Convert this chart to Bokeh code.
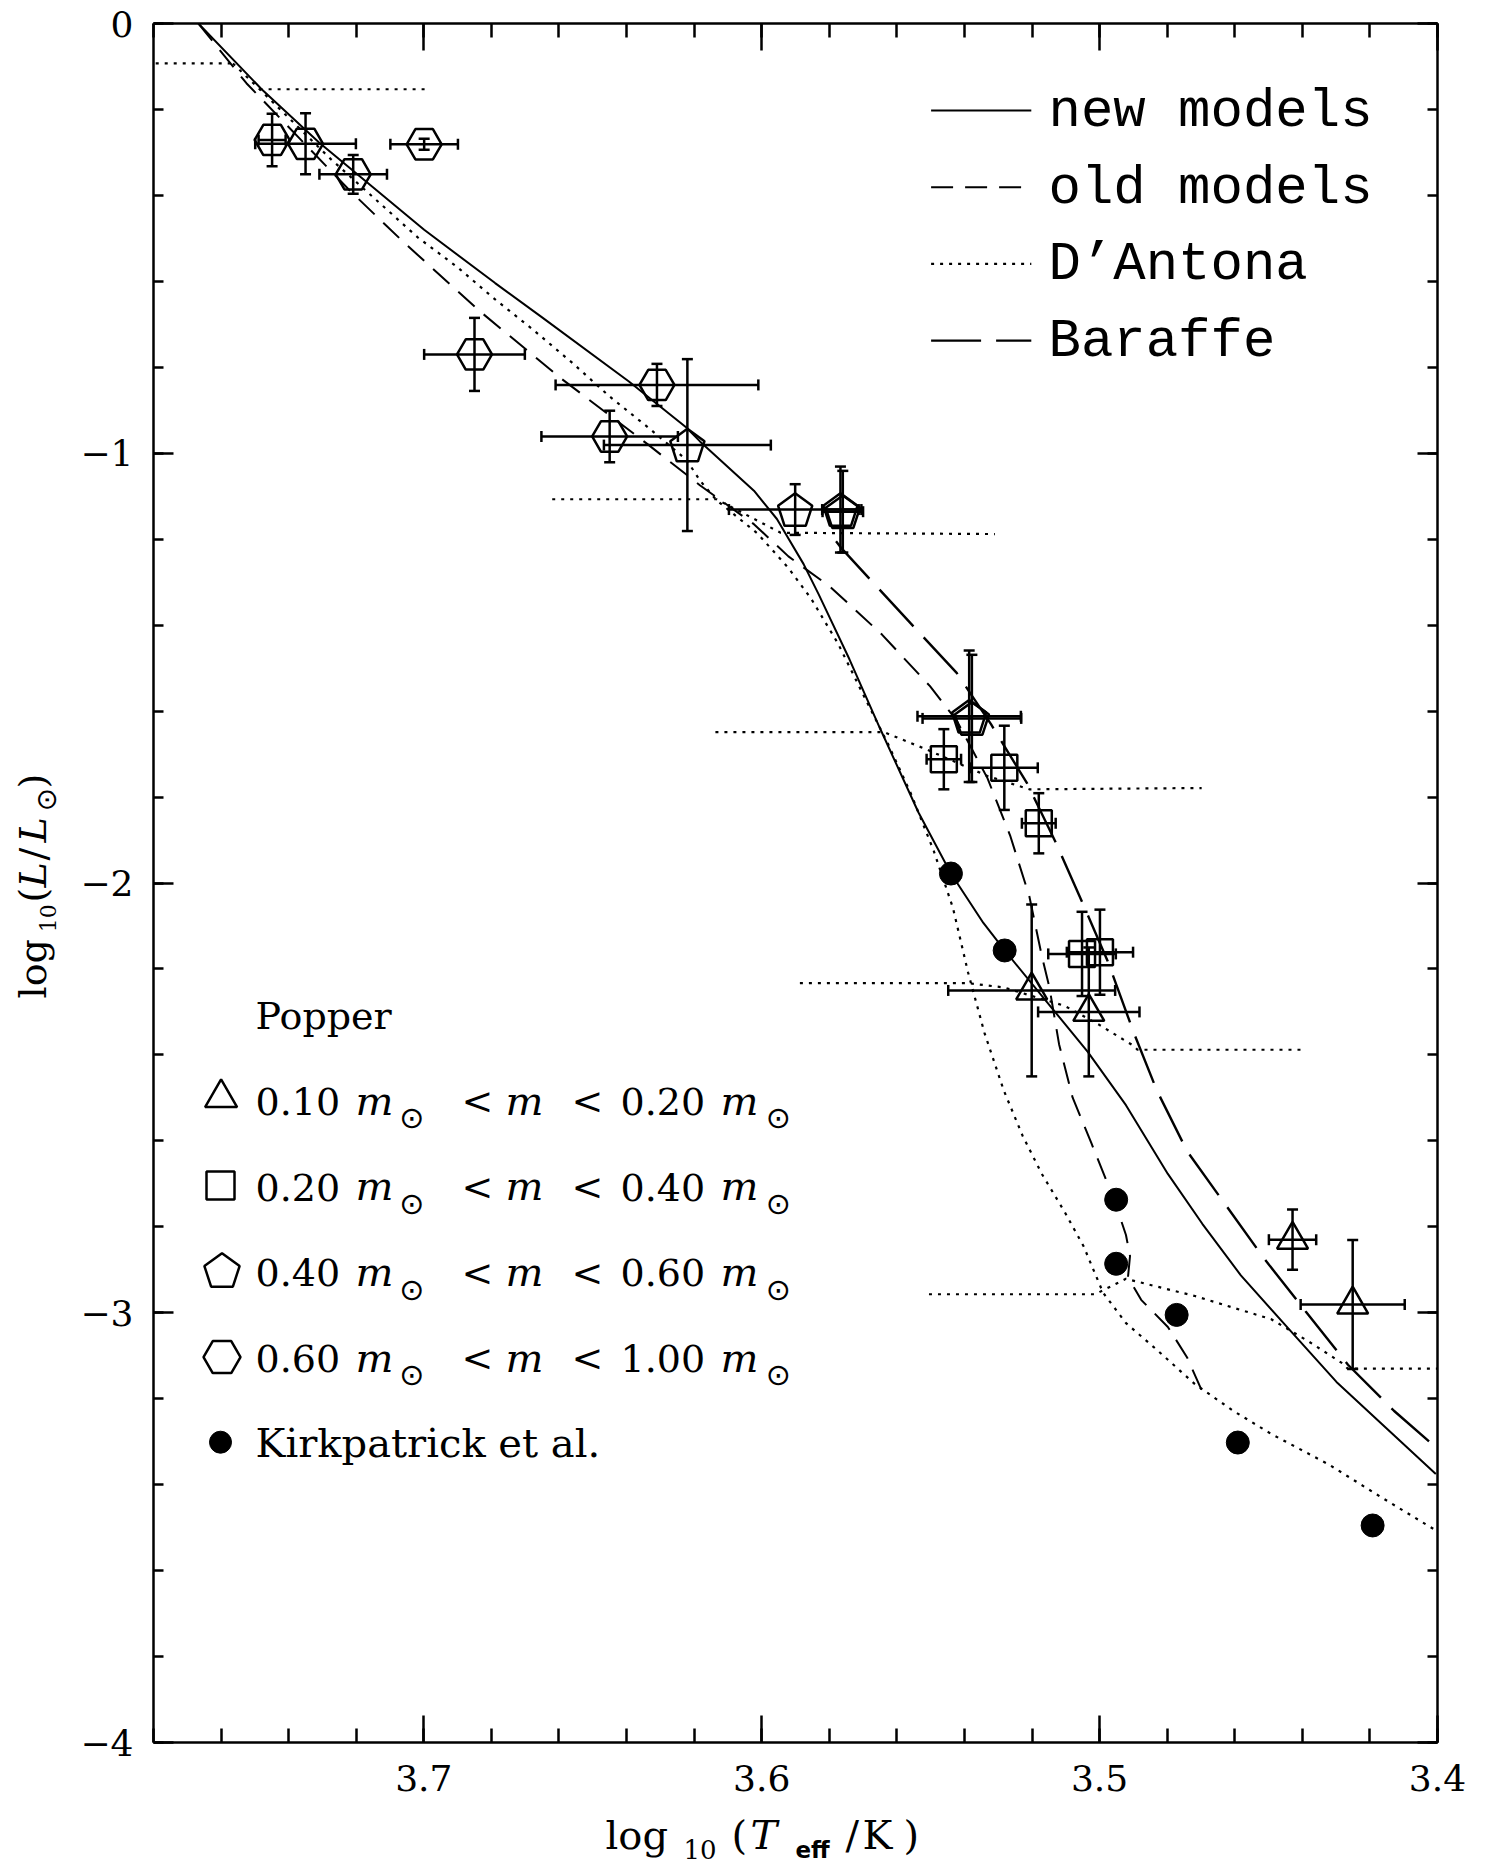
import numpy as np
from bokeh.plotting import figure
from bokeh.layouts import row, column
from bokeh.models import (Range1d, LinearAxis, FixedTicker, Whisker, TeeHead,
                          ColumnDataSource, Label)
from bokeh.embed import file_html
from bokeh.resources import INLINE

# ---------------- data ----------------
# new models (solid)
new_x = [3.7667, 3.748, 3.731, 3.6999, 3.6789, 3.6653, 3.6393, 3.6223, 3.6182, 3.6023,
         3.5955, 3.5876, 3.5831, 3.574, 3.565, 3.5536, 3.544, 3.5344, 3.5281, 3.5137,
         3.5035, 3.4922, 3.4798, 3.4696, 3.4582, 3.4435, 3.4299, 3.4152, 3.4005]
new_y = [0.0, -0.153, -0.277, -0.480, -0.604, -0.682, -0.833, -0.940, -0.973, -1.087,
         -1.153, -1.258, -1.329, -1.480, -1.640, -1.836, -1.978, -2.093, -2.157, -2.295,
         -2.393, -2.517, -2.677, -2.793, -2.913, -3.042, -3.161, -3.268, -3.375]
# old models (short dash)
old_x = [3.7667, 3.7525, 3.722, 3.7061, 3.6835, 3.6597, 3.6336, 3.6182, 3.6023, 3.5921,
         3.5797, 3.5644, 3.5502, 3.5423, 3.5332, 3.5265, 3.5208, 3.5171, 3.5149, 3.512,
         3.508, 3.5024, 3.4956, 3.4922, 3.491, 3.4916, 3.4877, 3.4798, 3.4741, 3.4696]
old_y = [0.0, -0.139, -0.388, -0.508, -0.669, -0.824, -0.980, -1.075, -1.165, -1.240,
         -1.311, -1.422, -1.542, -1.622, -1.756, -1.889, -2.031, -2.170, -2.241, -2.375,
         -2.499, -2.606, -2.739, -2.819, -2.868, -2.917, -2.970, -3.033, -3.104, -3.184]
# Baraffe (long dash)
bar_x = [3.578, 3.5763, 3.5559, 3.5423, 3.5321, 3.5214, 3.5129, 3.5049, 3.4976, 3.4899,
         3.4831, 3.4741, 3.4628, 3.4514, 3.439, 3.4265, 3.4129, 3.4005]
bar_y = [-1.205, -1.222, -1.396, -1.511, -1.631, -1.769, -1.907, -2.049, -2.182, -2.348,
         -2.482, -2.624, -2.748, -2.873, -2.997, -3.121, -3.228, -3.313]
# D'Antona main curve (dotted)
dan_x = [3.7565, 3.7486, 3.7276, 3.7016, 3.6902, 3.6789, 3.6676, 3.6563, 3.645, 3.6336,
         3.6223, 3.6182, 3.6134, 3.6012, 3.5921, 3.5854, 3.5774, 3.5695, 3.5627, 3.5559,
         3.5491, 3.5434, 3.5389, 3.5341, 3.5284, 3.5228, 3.5171, 3.5103, 3.5047, 3.499,
         3.4922, 3.4831, 3.4718, 3.4605, 3.4492, 3.4322, 3.4163, 3.401]
dan_y = [-0.093, -0.153, -0.315, -0.499, -0.566, -0.642, -0.713, -0.788, -0.868, -0.940,
         -1.015, -1.064, -1.109, -1.187, -1.267, -1.338, -1.443, -1.569, -1.675, -1.791,
         -1.925, -2.058, -2.209, -2.348, -2.482, -2.588, -2.677, -2.766, -2.846, -2.953,
         -3.024, -3.086, -3.166, -3.228, -3.282, -3.353, -3.431, -3.504]
# D'Antona tracks (dotted)
trk_x = [[3.79, 3.7565], [3.7486, 3.699],
         [3.662, 3.6134, 3.5944, 3.531],
         [3.6137, 3.5638, 3.5513, 3.5332, 3.5208, 3.4698],
         [3.5887, 3.539, 3.5284, 3.5103, 3.5001, 3.4899, 3.4888, 3.4396],
         [3.5505, 3.5013, 3.4922, 3.4831, 3.4718, 3.4605, 3.4492, 3.4379, 3.4277, 3.4266, 3.39]]
trk_y = [[-0.093, -0.093], [-0.153, -0.153],
         [-1.107, -1.107, -1.185, -1.188],
         [-1.649, -1.649, -1.689, -1.751, -1.782, -1.779],
         [-2.233, -2.233, -2.243, -2.286, -2.330, -2.379, -2.388, -2.388],
         [-2.957, -2.957, -2.921, -2.939, -2.961, -2.988, -3.015, -3.068, -3.120, -3.130, -3.130]]

# Popper 0.10-0.20 (triangles)
tri_x = [3.5201, 3.5032, 3.4429, 3.4251]
tri_y = [-2.250, -2.300, -2.830, -2.981]
tri_xe = [0.0247, 0.0150, 0.0070, 0.0154]
tri_ye = [0.200, 0.150, 0.070, 0.150]
# Popper 0.20-0.40 (squares)
sq_x = [3.5461, 3.5282, 3.518, 3.5052, 3.4999]
sq_y = [-1.712, -1.732, -1.861, -2.165, -2.161]
sq_xe = [0.0051, 0.0099, 0.0050, 0.0100, 0.0098]
sq_ye = [0.070, 0.098, 0.070, 0.098, 0.099]
# Popper 0.40-0.60 (pentagons)
pen_x = [3.622, 3.5901, 3.5767, 3.5760, 3.5386, 3.5378]
pen_y = [-0.981, -1.131, -1.131, -1.136, -1.612, -1.617]
pen_xe = [0.0247, 0.0196, 0.0054, 0.0060, 0.0153, 0.0146]
pen_ye = [0.200, 0.059, 0.100, 0.095, 0.153, 0.148]
# Popper 0.60-1.00 (hexagons)
hex_x = [3.7449, 3.7350, 3.7209, 3.6999, 3.685, 3.631, 3.645]
hex_y = [-0.271, -0.280, -0.351, -0.281, -0.770, -0.841, -0.961]
hex_xe = [0.004, 0.0149, 0.0100, 0.0100, 0.0149, 0.030, 0.0202]
hex_ye = [0.061, 0.071, 0.045, 0.013, 0.085, 0.049, 0.060]
# Kirkpatrick et al.
kirk_x = [3.544, 3.5281, 3.4951, 3.4951, 3.4772, 3.4591, 3.4192]
kirk_y = [-1.978, -2.157, -2.737, -2.886, -3.005, -3.302, -3.495]

# ticks
XTICKS = [3.4, 3.5, 3.6, 3.7]
XTICK_LABELS = ["3.4", "3.5", "3.6", "3.7"]
YTICKS = [0, -1, -2, -3, -4]
YTICK_LABELS = ["0", "\u22121", "\u22122", "\u22123", "\u22124"]
XMINOR = [round(3.40 + 0.02 * i, 2) for i in range(20)]
YMINOR = [round(-4.0 + 0.2 * i, 1) for i in range(21)]

LEG_NAMES = ["new models", "old models", "D\u2019Antona", "Baraffe"]
POP_RANGES = [("0.10", "0.20"), ("0.20", "0.40"), ("0.40", "0.60"), ("0.60", "1.00")]

# ---------------- layout (page pixels) ----------------
W, H = 1486, 1867
WY = 70            # strip for the y title
HP = 1808          # height of main plot; x-title strip below it
FL, FR, FT, FB = 153, 1437, 23, 1742
X0, X1 = 3.78, 3.40
Y0, Y1 = -4.0, 0.0
kx = (FR - FL) / (X0 - X1)
ky = (FB - FT) / (Y1 - Y0)


def px_x(X):
    return X0 - (X - FL) / kx


def px_y(Y):
    return Y1 - (Y - FT) / ky


p = figure(width=W - WY, height=HP, x_range=Range1d(X0, X1), y_range=Range1d(Y0, Y1),
           output_backend="svg", toolbar_location=None,
           min_border_left=FL - WY, min_border_right=W - FR, min_border_top=FT,
           min_border_bottom=HP - FB, background_fill_color="white",
           border_fill_color="white", outline_line_color=None)
p.grid.visible = False

xt = FixedTicker(ticks=XTICKS, minor_ticks=XMINOR)
yt = FixedTicker(ticks=YTICKS, minor_ticks=YMINOR)


def style_axis(ax, ticker, tin, mtin):
    ax.ticker = ticker
    ax.axis_line_width = 2.5
    ax.axis_line_color = "black"
    ax.major_tick_in = tin
    ax.major_tick_out = 0
    ax.minor_tick_in = mtin
    ax.minor_tick_out = 0
    ax.major_tick_line_width = 2.5
    ax.minor_tick_line_width = 2.5
    ax.major_tick_line_color = "black"
    ax.minor_tick_line_color = "black"
    ax.major_label_text_font = "DejaVu Serif"
    ax.major_label_text_font_size = "36px"
    ax.major_label_text_color = "black"
    ax.axis_label = None


style_axis(p.xaxis[0], xt, 27, 14)
p.xaxis[0].major_label_overrides = {t: s for t, s in zip(XTICKS, XTICK_LABELS)}
p.xaxis[0].major_label_standoff = 22
style_axis(p.yaxis[0], yt, 20, 10)
p.yaxis[0].major_label_overrides = {t: s for t, s in zip(YTICKS, YTICK_LABELS)}
p.yaxis[0].major_label_standoff = 20

top = LinearAxis()
style_axis(top, xt, 27, 14)
top.major_label_text_font_size = "1px"
top.major_label_overrides = {t: "" for t in XTICKS}
top.major_label_standoff = 0
p.add_layout(top, "above")
right = LinearAxis()
style_axis(right, yt, 20, 10)
right.major_label_text_font_size = "1px"
right.major_label_overrides = {t: "" for t in YTICKS}
right.major_label_standoff = 0
p.add_layout(right, "right")

DOT = "3 6"

# ---------------- curves ----------------
p.line(new_x, new_y, line_color="black", line_width=2)
p.line(old_x, old_y, line_color="black", line_width=2, line_dash="22 12")
p.line(bar_x, bar_y, line_color="black", line_width=2.4, line_dash="50 15")
p.line(dan_x, dan_y, line_color="black", line_width=2.2, line_dash=DOT)
p.multi_line(trk_x, trk_y, line_color="black", line_width=2.2, line_dash=DOT)

# ---------------- error bars ----------------
ex = tri_x + sq_x + pen_x + hex_x
ey = tri_y + sq_y + pen_y + hex_y
exe = tri_xe + sq_xe + pen_xe + hex_xe
eye = tri_ye + sq_ye + pen_ye + hex_ye
esrc = ColumnDataSource(dict(
    x=ex, y=ey,
    xlo=[a - b for a, b in zip(ex, exe)], xhi=[a + b for a, b in zip(ex, exe)],
    ylo=[a - b for a, b in zip(ey, eye)], yhi=[a + b for a, b in zip(ey, eye)]))
for dim, base, lo, hi in (("height", "x", "ylo", "yhi"), ("width", "y", "xlo", "xhi")):
    p.add_layout(Whisker(source=esrc, dimension=dim, base=base, lower=lo, upper=hi,
                         line_color="black", line_width=2.5,
                         upper_head=TeeHead(size=11, line_width=2.5, line_color="black"),
                         lower_head=TeeHead(size=11, line_width=2.5, line_color="black")))

# ---------------- markers ----------------
MK = dict(fill_color=None, line_color="black", line_width=2.5)
p.scatter(tri_x, tri_y, marker="triangle", size=31, **MK)
p.scatter(sq_x, sq_y, marker="square", size=26, **MK)
p.scatter(hex_x, hex_y, marker="hex", size=35, **MK)
p.scatter(kirk_x, kirk_y, marker="circle", size=23, fill_color="black", line_color="black")

ANG = np.pi / 2 + np.arange(5) * 2 * np.pi / 5


def pentagon(cx, cy, R):
    off = 0.095 * R
    return (list(cx - R * np.cos(ANG) / kx),
            list(cy + (R * np.sin(ANG) - off) / ky))


pxs, pys = zip(*[pentagon(a, b, 18) for a, b in zip(pen_x, pen_y)])
p.patches(list(pxs), list(pys), **MK)


# ---------------- text helpers ----------------
def lab(fig, fx, fy, X, Y, text, size=38, font="DejaVu Serif", style="normal",
        align="left", angle=0.0, k=0.30):
    """Y (or X for rotated text) is the alphabetic baseline in page pixels."""
    if angle == 0.0:
        Xm, Ym = X, Y - k * size
    else:
        Xm, Ym = X - k * size, Y
    fig.add_layout(Label(x=fx(Xm), y=fy(Ym), text=text, text_font=font,
                         text_font_size=f"{size}px", text_font_style=style,
                         text_align=align, text_baseline="middle", angle=angle,
                         text_color="black"))


def P(X, Y, text, **kw):
    lab(p, px_x, px_y, X, Y, text, **kw)


# top-right legend
LEG_DASH = ["solid", "22 12", DOT, "50 15"]
LEG_W = [2, 2, 2.2, 2.4]
for i, name in enumerate(LEG_NAMES):
    yl = 110 + 76.7 * i
    p.segment(x0=[px_x(930.6)], y0=[px_y(yl)], x1=[px_x(1030.8 if i != 1 else 1021)],
              y1=[px_y(yl)], line_color="black", line_width=LEG_W[i], line_dash=LEG_DASH[i])
    P(1048, 124.5 + 76.7 * i, name, size=54, font="Liberation Mono", k=0.25)

# Popper legend
B0, DB = 1026.7, 85.6
P(255, B0, "Popper")
for i, (a, b) in enumerate(POP_RANGES):
    B = B0 + DB * (i + 1)
    P(255, B, a)
    P(355, B, "m", size=40, style="italic")
    P(411.3, B + 14, "\u2299", size=30, font="DejaVu Sans", align="center")
    P(461, B, "<")
    P(505, B, "m", size=40, style="italic")
    P(571, B, "<")
    P(620, B, b)
    P(720, B, "m", size=40, style="italic")
    P(777.7, B + 14, "\u2299", size=30, font="DejaVu Sans", align="center")
B5 = B0 + DB * 5
P(255, B5, "Kirkpatrick et al.", size=40)

# legend symbols
p.scatter([px_x(220.6)], [px_y(B0 + DB - 15)], marker="triangle", size=32, **MK)
p.scatter([px_x(220)], [px_y(B0 + 2 * DB - 13)], marker="square", size=28, **MK)
lpx, lpy = pentagon(px_x(221.5), px_y(B0 + 3 * DB - 14), 18.5)
p.patch(lpx, lpy, **MK)
p.scatter([px_x(221.5)], [px_y(B0 + 4 * DB - 12.5)], marker="hex", size=37, **MK)
p.scatter([px_x(220)], [px_y(B5 - 13)], marker="circle", size=22, fill_color="black",
          line_color="black")

ident = lambda v: v

# ---------------- y title strip ----------------
yfig = figure(width=WY, height=H, x_range=Range1d(0, WY), y_range=Range1d(H, 0),
              output_backend="svg", toolbar_location=None, x_axis_type=None,
              y_axis_type=None, min_border=0, outline_line_color=None,
              background_fill_color="white", border_fill_color="white")
A = np.pi / 2
YBX = 43.5
lab(yfig, ident, ident, YBX, 998, "log", angle=A)
lab(yfig, ident, ident, YBX + 11, 931.7, "10", size=22, angle=A)
lab(yfig, ident, ident, YBX, 902, "(", angle=A)
lab(yfig, ident, ident, YBX, 887, "L", style="italic", angle=A)
lab(yfig, ident, ident, YBX, 860, "/", angle=A)
lab(yfig, ident, ident, YBX, 842, "L", style="italic", angle=A)
lab(yfig, ident, ident, YBX + 11, 811, "\u2299", size=28, font="DejaVu Sans", angle=A)
lab(yfig, ident, ident, YBX, 788, ")", angle=A)

# ---------------- x title strip (its frame is aligned with the main frame) ----------------
xfig = figure(width=W - WY, height=H - HP, x_range=Range1d(FL, FR), y_range=Range1d(H, HP),
              output_backend="svg", toolbar_location=None, x_axis_type=None,
              y_axis_type=None, min_border=0, outline_line_color=None,
              background_fill_color="white", border_fill_color="white")
XB = 1846.7
lab(xfig, ident, ident, 605, XB, "log", size=40)
lab(xfig, ident, ident, 683, XB + 10, "10", size=26)
lab(xfig, ident, ident, 731, XB, "(", size=40)
lab(xfig, ident, ident, 750, XB, "T", size=40, style="italic")
lab(xfig, ident, ident, 795, XB + 10, "eff", size=23, font="DejaVu Sans", style="bold")
lab(xfig, ident, ident, 845, XB, "/", size=40)
lab(xfig, ident, ident, 862, XB, "K", size=40)
lab(xfig, ident, ident, 903, XB, ")", size=40)

layout = row(yfig, column(p, xfig))
open("out.html", "w").write(file_html(layout, INLINE))
